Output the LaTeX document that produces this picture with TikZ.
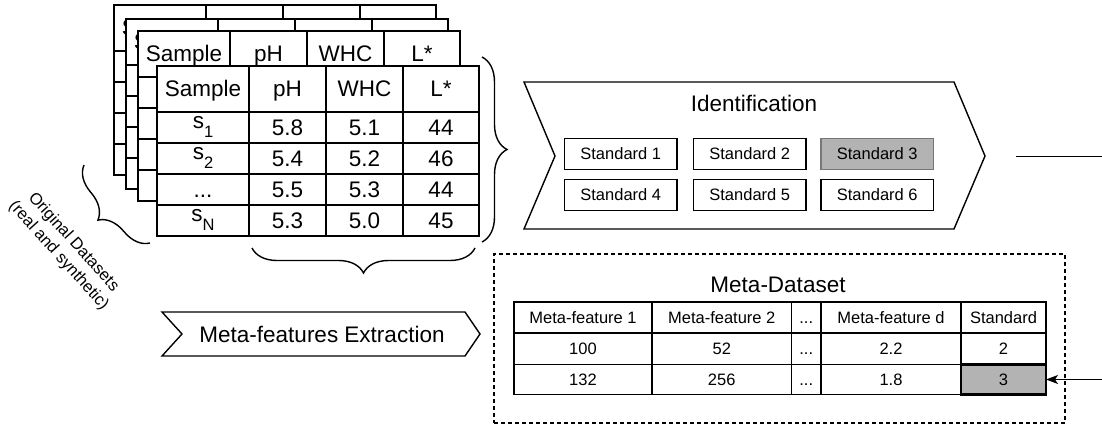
\documentclass[tikz,border=0pt]{standalone}
\usepackage{fontspec}
\setmainfont{Liberation Sans}
\usetikzlibrary{decorations.pathreplacing,arrows.meta}

\definecolor{pick}{HTML}{B3B3B3}
\definecolor{pickline}{HTML}{777777}
\newcommand\bigsz{\fontsize{22.5}{27}\selectfont}
\newcommand\smallsz{\fontsize{16.5}{20}\selectfont}
\newcommand\subsz{\fontsize{16.5}{16.5}\selectfont}
\newcommand\tdots{...}
\newcommand\ssub[1]{\raisebox{7pt}{s\raisebox{-9pt}{\subsz #1}}}

\tikzset{
  ln/.style={line width=1.4pt},
  cell/.style={draw, ln, fill=white, inner sep=0pt, outer sep=0pt,
    anchor=north west, font=\bigsz, text height=16pt, text depth=0pt},
  mcell/.style={cell, font=\smallsz, text height=12pt},
  scell/.style={mcell, line width=2.4pt},
  stdbox/.style={draw, ln, fill=white, inner sep=0pt, outer sep=0pt,
    anchor=north west, minimum width=112.5, minimum height=31, font=\smallsz},
  brc/.style={ln, decorate, decoration={brace, amplitude=25pt}},
}

% a data sheet with its header row and empty body rows
\newcommand\sheet[3]{%
  \begin{scope}[shift={(#2,#3)}]
    \foreach \c/\cx/\w/\t in {1/0/92/Sample,2/92/77/pH,3/169/77/WHC,4/246/76/L*}{
      \node[cell, minimum width=\w, minimum height=46] (#1-h\c) at (\cx,0) {\t};
      \foreach \r/\ry in {1/46,2/77,3/108,4/139}
        \node[cell, minimum width=\w, minimum height=31] (#1-r\r c\c) at (\cx,\ry) {};
    }
  \end{scope}}

\begin{document}
\begin{tikzpicture}[x=1pt, y=-1pt]
\useasboundingbox (0,0) rectangle (1102,425);

% stacked original datasets
\sheet{back1}{114}{5}
\sheet{back2}{126}{19}
\sheet{back3}{138}{31}

\begin{scope}[shift={(157,66)}]
  \foreach \c/\cx/\w/\t in {1/0/92/Sample,2/92/77/pH,3/169/77/WHC,4/246/76/L*}
    \node[cell, minimum width=\w, minimum height=46] (front-h\c) at (\cx,0) {\t};
  \foreach \r/\ry/\a/\b/\cc/\d in {1/46/{\ssub{1}}/5.8/5.1/44,
                                   2/77/{\ssub{2}}/5.4/5.2/46,
                                   3/108/\tdots/5.5/5.3/44,
                                   4/139/{\ssub{N}}/5.3/5.0/45}{
    \node[cell, minimum width=92, minimum height=31] (front-r\r c1) at (0,\ry) {\a};
    \node[cell, minimum width=77, minimum height=31] (front-r\r c2) at (92,\ry) {\b};
    \node[cell, minimum width=77, minimum height=31] (front-r\r c3) at (169,\ry) {\cc};
    \node[cell, minimum width=76, minimum height=31] (front-r\r c4) at (246,\ry) {\d};
  }
\end{scope}

% braces
\draw[brc] (150,243) -- (84,165);
\draw[brc] (482,57) -- (482,242);
\draw[brc] (475,248) -- (252,248);

\node[font=\smallsz, align=center, rotate=-48] (orig-label) at (66,249)
  {Original Datasets\\(real and synthetic)};

% meta-features extraction step
\draw[ln] (162,312) -- (465,312) -- (480,334) -- (465,356) -- (162,356) -- (182,334) -- cycle;
\node[font=\bigsz] (extract-label) at (322,334) {Meta-features Extraction};

% identification step
\draw[ln] (524,82) -- (954,82) -- (985,156) -- (954,229) -- (524,229) -- (555,156) -- cycle;
\node[font=\bigsz] (ident-label) at (754,103) {Identification};
\node[stdbox] (std1) at (564.5,138.5) {Standard 1};
\node[stdbox] (std2) at (693.5,138.5) {Standard 2};
\node[stdbox, fill=pick, draw=pickline] (std3) at (821,138.5) {Standard 3};
\node[stdbox] (std4) at (564.5,179.5) {Standard 4};
\node[stdbox] (std5) at (693.5,179.5) {Standard 5};
\node[stdbox] (std6) at (821,179.5) {Standard 6};

\coordinate (ident-out) at (1016,156.5);
\coordinate (edge-top) at (1102,156.5);
\draw[ln] (ident-out) -- (edge-top);

% meta-dataset
\node[draw, ln, dash pattern=on 4pt off 3pt, inner sep=0pt, outer sep=0pt,
  anchor=north west, minimum width=571, minimum height=169] (meta-box) at (494,254) {};
\node[font=\bigsz] (meta-label) at (778,284.5) {Meta-Dataset};

\foreach \c/\cx/\w/\t/\u/\v in {1/514/138/Meta-feature 1/100/132,
                                 2/652/139.5/Meta-feature 2/52/256,
                                 3/791.5/29.5/\tdots/\tdots/\tdots,
                                 4/821/140/Meta-feature d/2.2/1.8}{
  \node[mcell, minimum width=\w, minimum height=31] (meta-h\c) at (\cx,302) {\t};
  \node[mcell, minimum width=\w, minimum height=31.5] (meta-a\c) at (\cx,333) {\u};
  \node[mcell, minimum width=\w, minimum height=30] (meta-b\c) at (\cx,364.5) {\v};
}
\node[scell, minimum width=85, minimum height=31] (std-h) at (961,302) {Standard};
\node[scell, minimum width=85, minimum height=31.5] (std-a) at (961,333) {2};
\node[scell, fill=pick, minimum width=85, minimum height=30] (std-b) at (961,364.5) {3};

\coordinate (edge-bot) at (1102,379.5);
\draw[ln, -{Stealth[length=12pt, width=9pt, inset=3pt]}] (edge-bot) -- (std-b.east);

\end{tikzpicture}
\end{document}
